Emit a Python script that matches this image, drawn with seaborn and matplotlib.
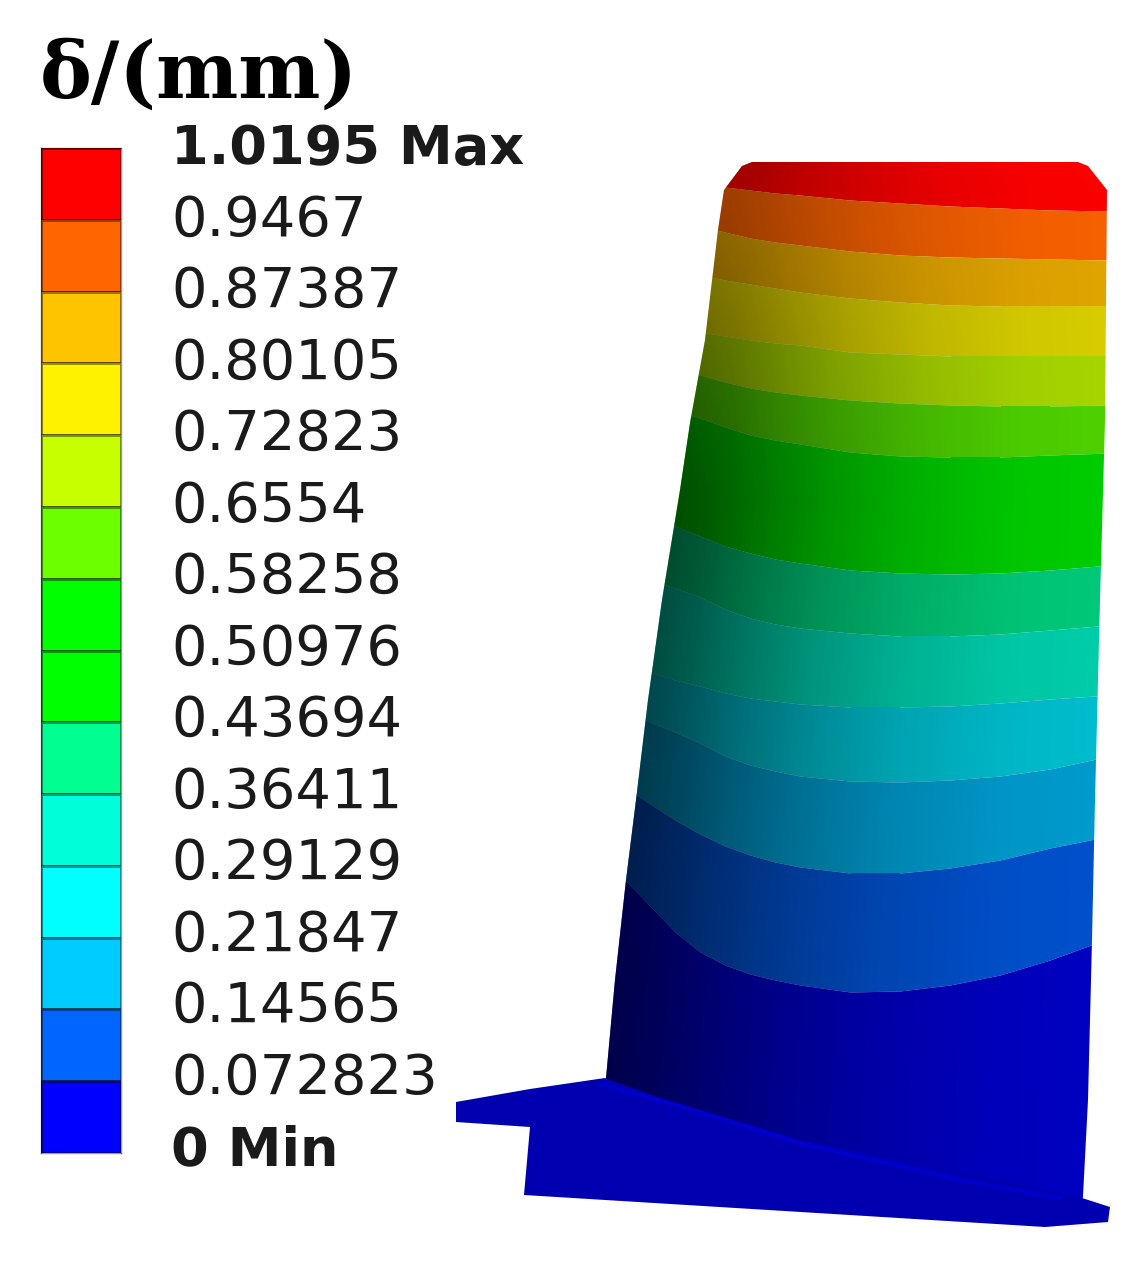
import numpy as np
import matplotlib
matplotlib.use("Agg")
import matplotlib.pyplot as plt
from matplotlib.colors import ListedColormap
from matplotlib.patches import Polygon
import seaborn as sns

sns.set_theme(style="white")
plt.rcParams['font.family'] = ['DejaVu Sans']

# === legend ===
legend_labels = ["1.0195 Max", "0.9467", "0.87387", "0.80105", "0.72823", "0.6554", "0.58258",
                 "0.50976", "0.43694", "0.36411", "0.29129", "0.21847", "0.14565", "0.072823", "0 Min"]
legend_colors = ["#ff0000", "#ff6600", "#ffc400", "#fff200", "#c8ff00", "#6cff00", "#00ff00",
                 "#00ff00", "#00ff90", "#00ffd8", "#00ffff", "#00ccff", "#0066ff", "#0000ff"]

# === blade contour bands, read in image pixels ===
station_x = [600, 625, 650, 675, 700, 725, 750, 775, 800, 850, 900, 950, 1000, 1050, 1110]
band_edges = [
    [170, 173, 176, 180, 183, 187, 190, 193, 195, 200, 203, 206, 208, 210, 211],
    [212, 216, 220, 223, 226, 232, 238, 242, 245, 251, 255, 257, 258, 259, 260],
    [260, 264, 268, 272, 275, 280, 284, 288, 292, 298, 302, 305, 306, 306, 306],
    [318, 322, 325, 329, 332, 336, 340, 343, 345, 352, 354, 356, 356, 356, 356],
    [355, 360, 364, 370, 375, 382, 388, 392, 395, 400, 403, 405, 406, 406, 405],
    [392, 398, 403, 411, 418, 427, 435, 440, 444, 452, 456, 457, 457, 455, 453],
    [495, 505, 515, 526, 536, 546, 553, 559, 563, 570, 573, 574, 573, 570, 565],
    [565, 572, 580, 588, 597, 609, 618, 624, 628, 633, 636, 636, 634, 630, 625],
    [660, 666, 672, 680, 686, 693, 698, 701, 704, 707, 707, 706, 703, 699, 695],
    [695, 708, 722, 732, 743, 756, 765, 771, 776, 781, 782, 780, 776, 769, 756],
    [770, 787, 804, 820, 834, 846, 855, 862, 867, 873, 873, 868, 860, 848, 836],
    [855, 880, 906, 932, 952, 965, 974, 980, 985, 992, 991, 985, 975, 960, 938],
]
band_colors = ["#fa0000", "#f56000", "#e0a400", "#d6cc00", "#a6d400", "#4ed000", "#00cc00",
               "#00c878", "#00ccaa", "#00bccc", "#009acc", "#0050cc", "#0000c0"]

# left and right side of the blade
left_edge_y = [162, 166, 190, 230, 340, 423, 490, 600, 700, 800, 880, 980, 1100]
left_edge_x = [752, 742, 724, 718, 705, 690, 680, 662, 648, 636, 626, 615, 604]
right_edge_y = [162, 166, 190, 420, 600, 800, 940, 1100, 1215]
right_edge_x = [1078, 1088, 1107, 1105, 1100, 1095, 1092, 1088, 1082]
shade_pos = [0, 0.08, 0.2, 0.35, 0.55, 0.8, 1]
shade_alpha = [0.62, 0.55, 0.42, 0.28, 0.14, 0.03, 0]
shade_scale_y = [160, 230, 350, 500, 1000]
shade_scale = [0.55, 0.62, 0.8, 1, 1]

# root platform
platform_x = [456, 530, 605, 660, 800, 1000, 1082, 1110, 1108, 1045, 524, 530, 456]
platform_y = [1102, 1089, 1078, 1098, 1140, 1180, 1198, 1207, 1222, 1227, 1195, 1127, 1122]
platform_color = "#0000b0"
ridge_x = [600, 680, 800, 950, 1060]
ridge_y = [1084, 1106, 1143, 1178, 1198]

fig = plt.figure(figsize=(11.32, 12.69), dpi=100)
ax = fig.add_axes([0, 0, 1, 1])

# === blade ===
outline = np.column_stack([left_edge_x + right_edge_x[::-1], left_edge_y + right_edge_y[::-1]])
blade_path = Polygon(outline, closed=True, transform=ax.transData, facecolor="none", edgecolor="none")
ax.add_patch(blade_path)
top = [150] * len(station_x)
bottom = [1230] * len(station_x)
edges = [top] + band_edges + [bottom]
for i, c in enumerate(band_colors):
    band = ax.fill_between(station_x, edges[i], edges[i + 1], color=c, linewidth=0, zorder=2)
    band.set_clip_path(blade_path)

# darker towards the left side of the blade
gy, gx = np.mgrid[150:1230:4, 600:1112:2]
left = np.interp(gy, left_edge_y, left_edge_x)
right = np.interp(gy, right_edge_y, right_edge_x)
alpha = np.interp((gx - left) / (right - left), shade_pos, shade_alpha) * np.interp(gy, shade_scale_y, shade_scale)
shade = np.zeros(gx.shape + (4,))
shade[..., 3] = alpha
im = ax.imshow(shade, extent=(600, 1112, 1230, 150), aspect="auto", zorder=3, interpolation="bilinear")
im.set_clip_path(blade_path)

# === platform ===
ax.fill(platform_x, platform_y, color=platform_color, linewidth=0, zorder=4)
ax.plot(ridge_x, ridge_y, color="#0000d8", linewidth=3, alpha=0.7, zorder=5)

ax.set_xlim(0, 1132)
ax.set_ylim(1269, 0)
ax.axis("off")

# === legend ===
cax = fig.add_axes([41 / 1132, 1 - 1153 / 1269, 80 / 1132, 1005 / 1269])
sns.heatmap(np.arange(len(legend_colors)).reshape(-1, 1), ax=cax, cmap=ListedColormap(legend_colors),
            cbar=False, xticklabels=False, yticklabels=False, linewidths=1, linecolor=(0, 0, 0, 0.4))
for s in cax.spines.values():
    s.set_visible(True)
    s.set_edgecolor((0, 0, 0, 0.4))
    s.set_linewidth(1)

label_y = np.linspace(149, 1150, len(legend_labels))
for lab, y in zip(legend_labels, label_y):
    bold = "M" in lab
    ax.text(171, y, lab, fontsize=39 if bold else 40.2, va="center", ha="left", color="#1a1a1a",
            fontweight="bold" if bold else "normal")

ax.text(40, 76, "δ/(mm)", fontsize=56, fontweight="bold", va="center", ha="left",
        family=["DejaVu Serif"], color="black")

fig.savefig("out.png", dpi=100)
